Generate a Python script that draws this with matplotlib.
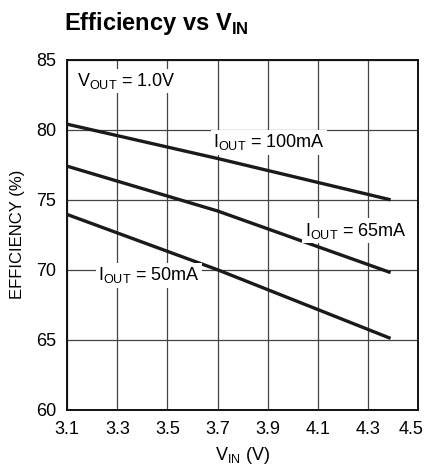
import matplotlib
matplotlib.use("Agg")
import matplotlib.pyplot as plt
from matplotlib.transforms import ScaledTranslation

# pas de police étroite installée : Liberation Sans (type Arial)
fonte = ['Liberation Sans', 'DejaVu Sans']
plt.rcParams['font.family'] = fonte
plt.rcParams['mathtext.fontset'] = 'custom'
plt.rcParams['mathtext.rm'] = 'Liberation Sans'
plt.rcParams['mathtext.bf'] = 'Liberation Sans:bold'

vin = [3.1, 3.7, 4.39]
eff_100 = [80.4, 77.95, 75.0]
eff_65 = [77.4, 74.2, 69.8]
eff_50 = [73.95, 70.0, 65.1]

xticks = [3.1, 3.3, 3.5, 3.7, 3.9, 4.1, 4.3, 4.5]
yticks = [60, 65, 70, 75, 80, 85]

fig = plt.figure(figsize=(4.28, 4.71), dpi=100)
ax = fig.add_axes([0.157, 0.130, 0.820, 0.743])

for e in (eff_100, eff_65, eff_50):
	ax.plot(vin, e, color='#1a1a1a', lw=2.4, solid_capstyle='butt', zorder=3)

ax.set_xlim(3.1, 4.5)
ax.set_ylim(60, 85)
ax.set_xticks(xticks)
ax.set_yticks(yticks)
ax.set_xticklabels([f"{v:.1f}" for v in xticks])
ax.tick_params(length=0, labelsize=13, pad=8)
ax.grid(True, color='#444444', lw=0.9)
for s in ax.spines.values():
	s.set_linewidth(1.4)
	s.set_color('#111111')

# le dernier label touche le bord : on le décale un peu
dernier = ax.get_xticklabels()[-1]
dernier.set_transform(dernier.get_transform() + ScaledTranslation(-5/72, 0, fig.dpi_scale_trans))

ax.set_xlabel(r"V$_{\mathregular{IN}}$ (V)", fontsize=13, labelpad=5)
ax.set_ylabel("EFFICIENCY (%)", fontsize=12, labelpad=8)

boite = dict(facecolor='white', edgecolor='none', pad=1.5)
ax.text(3.14, 83.5, r"V$_{\mathregular{OUT}}$ = 1.0V", fontsize=13, va='center', ha='left', bbox=boite, zorder=4)
ax.text(3.905, 79.1, r"I$_{\mathregular{OUT}}$ = 100mA", fontsize=13, va='center', ha='center', bbox=boite, zorder=4)
ax.text(4.25, 72.8, r"I$_{\mathregular{OUT}}$ = 65mA", fontsize=13, va='center', ha='center', bbox=boite, zorder=4)
ax.text(3.425, 69.6, r"I$_{\mathregular{OUT}}$ = 50mA", fontsize=13, va='center', ha='center', bbox=boite, zorder=4)

fig.text(0.150, 0.950, r"Efficiency vs V$_{\mathbf{IN}}$", fontsize=17, fontweight='bold', ha='left', va='center')

fig.savefig("out.png", dpi=100)
